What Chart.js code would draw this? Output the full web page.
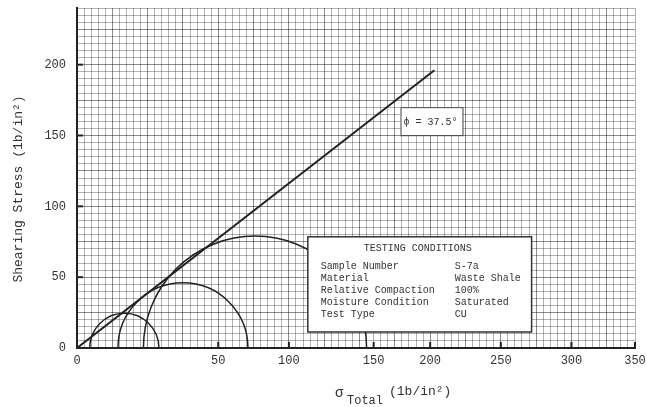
<!DOCTYPE html>
<html>
<head>
<meta charset="utf-8">
<script src="https://cdn.jsdelivr.net/npm/chart.js@4"></script>
<style>
  html, body { margin: 0; padding: 0; background: #fff; }
  #wrap { width: 647px; height: 407px; }
</style>
</head>
<body>
<div id="wrap"><canvas id="mohrChart" width="647" height="407"></canvas></div>
<script>
// stresses in lb/in^2
const sigma3 = [9, 29, 47];       // minor principal stress of each Mohr circle
const sigma1 = [58, 121, 205];    // major principal stress
const envelopeX = [0, 253];
const envelopeY = [0, 196];
const frictionLabel = 'ϕ = 37.5°';

const yTickValues = [0, 50, 100, 150, 200];
// the printed x labels do not sit at even spacing on the original sheet
const xTickValues = [0, 100, 150, 210, 250, 300, 350, 395];
const xTickLabels = ['0', '50', '100', '150', '200', '250', '300', '350'];

const conditionNames = ['Sample Number', 'Material', 'Relative Compaction', 'Moisture Condition', 'Test Type'];
const conditionValues = ['S-7a', 'Waste Shale', '100%', 'Saturated', 'CU'];

const MONO = '"Liberation Mono", "DejaVu Sans Mono", monospace';
const INK = '#222';

function gridColor(c) {
  const v = c.tick.value;
  return v % 25 === 0 ? 'rgba(0,0,0,0.45)' : 'rgba(0,0,0,0.3)';
}

const paperPlugin = {
  id: 'paper',
  afterDatasetsDraw(chart) {
    const { ctx, chartArea: a } = chart;
    const x = chart.scales.x, y = chart.scales.y;
    const y0 = y.getPixelForValue(0);
    ctx.save();

    // small tick marks pointing into the plot
    ctx.strokeStyle = INK;
    ctx.lineWidth = 2;
    xTickValues.forEach(v => {
      const px = x.getPixelForValue(v);
      ctx.beginPath(); ctx.moveTo(px, a.bottom); ctx.lineTo(px, a.bottom - 6); ctx.stroke();
    });
    yTickValues.forEach(v => {
      const py = y.getPixelForValue(v);
      ctx.beginPath(); ctx.moveTo(a.left, py); ctx.lineTo(a.left + 6, py); ctx.stroke();
    });

    // Mohr circles (upper halves)
    ctx.lineWidth = 1.5;
    ctx.strokeStyle = INK;
    sigma3.forEach((s3, i) => {
      const s1 = sigma1[i];
      const cx = x.getPixelForValue((s1 + s3) / 2);
      const rx = x.getPixelForValue(s1) - cx;
      const ry = y0 - y.getPixelForValue((s1 - s3) / 2);
      ctx.beginPath();
      ctx.ellipse(cx, y0, rx, ry, 0, Math.PI, 2 * Math.PI);
      ctx.stroke();
    });

    // friction angle label
    const fx = x.getPixelForValue(229), fy = y.getPixelForValue(170);
    ctx.fillStyle = '#fff';
    ctx.fillRect(fx, fy, 62, 28);
    ctx.lineWidth = 1;
    ctx.strokeStyle = '#444';
    ctx.strokeRect(fx + 0.5, fy + 0.5, 62, 28);
    ctx.fillStyle = '#333';
    ctx.font = '10px ' + MONO;
    ctx.textBaseline = 'middle';
    ctx.textAlign = 'left';
    ctx.fillText(frictionLabel, fx + 3, fy + 15);

    // testing conditions box
    const bx = x.getPixelForValue(163.4), by = y.getPixelForValue(78.5);
    const bw = x.getPixelForValue(321.8) - bx, bh = y.getPixelForValue(11.3) - by;
    ctx.fillStyle = '#fff';
    ctx.fillRect(bx, by, bw, bh);
    ctx.lineWidth = 1.5;
    ctx.strokeStyle = '#333';
    ctx.strokeRect(bx, by, bw, bh);
    ctx.fillStyle = '#333';
    ctx.font = '10px ' + MONO;
    ctx.textAlign = 'center';
    ctx.fillText('TESTING CONDITIONS', bx + bw / 2 - 2, by + 12);
    ctx.textAlign = 'left';
    conditionNames.forEach((n, i) => {
      const ry = by + 30 + i * 12;
      ctx.fillText(n, bx + 13, ry);
      ctx.fillText(conditionValues[i], bx + 147, ry);
    });

    ctx.restore();
  },
  afterDraw(chart) {
    const { ctx } = chart;
    ctx.save();
    ctx.fillStyle = '#333';
    ctx.textBaseline = 'alphabetic';
    // y title
    ctx.font = '13px ' + MONO;
    ctx.translate(22, 189);
    ctx.rotate(-Math.PI / 2);
    ctx.textAlign = 'center';
    ctx.fillText('Shearing Stress (1b/in²)', 0, 0);
    ctx.setTransform(1, 0, 0, 1, 0, 0);
    // x title with subscript
    ctx.textAlign = 'left';
    ctx.font = '14px ' + MONO;
    ctx.fillText('σ', 335, 397);
    ctx.font = '12px ' + MONO;
    ctx.fillText('Total', 347, 404);
    ctx.font = '13px ' + MONO;
    ctx.fillText('(1b/in²)', 389, 395);
    ctx.restore();
  }
};

new Chart(document.getElementById('mohrChart').getContext('2d'), {
  type: 'scatter',
  data: {
    datasets: [{
      label: 'Failure envelope',
      data: envelopeX.map((v, i) => ({ x: v, y: envelopeY[i] })),
      showLine: true,
      borderColor: INK,
      borderWidth: 2,
      pointRadius: 0,
      fill: false
    }]
  },
  options: {
    responsive: false,
    animation: false,
    layout: { padding: { top: 8, right: 12, left: 0, bottom: 0 } },
    plugins: { legend: { display: false }, tooltip: { enabled: false } },
    scales: {
      x: {
        type: 'linear',
        min: 0,
        max: 395,
        afterBuildTicks: s => { const t = []; for (let v = 0; v <= 395; v += 5) t.push({ value: v }); s.ticks = t; },
        afterFit: s => { s.height = 59; s.paddingLeft = 0; s.paddingRight = 0; },
        ticks: {
          autoSkip: false,
          maxRotation: 0,
          padding: 6,
          color: '#333',
          font: { family: MONO, size: 12 },
          callback: v => { const i = xTickValues.indexOf(v); return i >= 0 ? xTickLabels[i] : ''; }
        },
        grid: { color: gridColor, lineWidth: 1, drawTicks: false },
        border: { color: INK, width: 2 }
      },
      y: {
        type: 'linear',
        min: 0,
        max: 240,
        afterBuildTicks: s => { const t = []; for (let v = 0; v <= 240; v += 5) t.push({ value: v }); s.ticks = t; },
        afterFit: s => { s.width = 77; s.paddingTop = 0; s.paddingBottom = 0; },
        ticks: {
          autoSkip: false,
          padding: 11,
          color: '#333',
          font: { family: MONO, size: 12 },
          callback: v => yTickValues.includes(v) ? String(v) : ''
        },
        grid: { color: gridColor, lineWidth: 1, drawTicks: false },
        border: { color: INK, width: 2 }
      }
    }
  },
  plugins: [paperPlugin]
});
</script>
</body>
</html>
